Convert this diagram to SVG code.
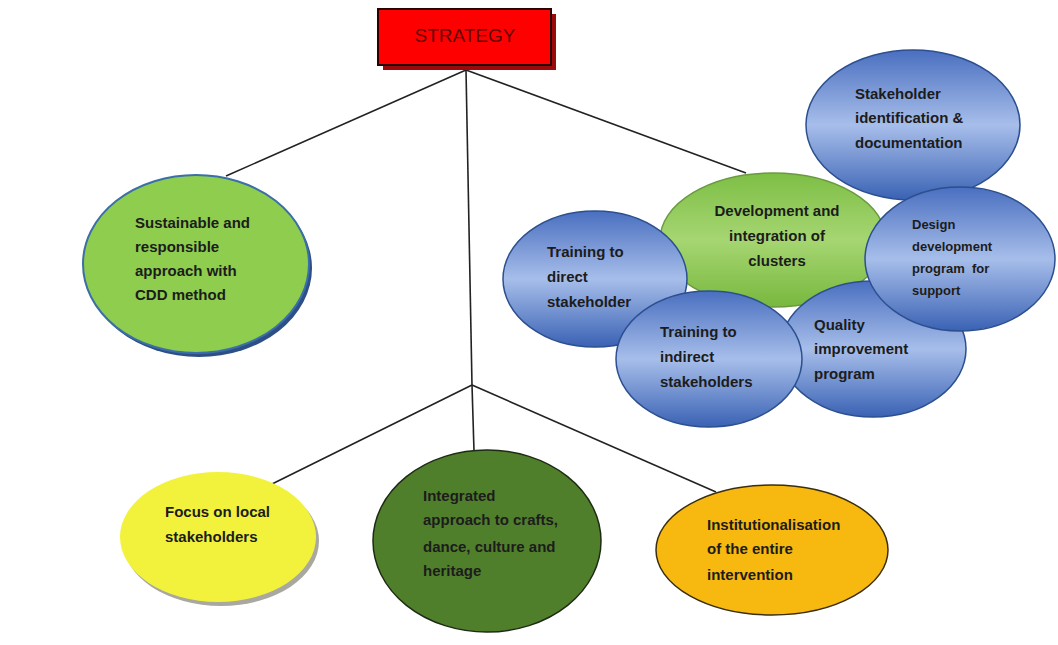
<svg xmlns="http://www.w3.org/2000/svg" width="1058" height="645" viewBox="0 0 1058 645">
<defs>
<linearGradient id="blue" x1="0" y1="0" x2="0" y2="1">
<stop offset="0" stop-color="#4A6FC0"/>
<stop offset="0.5" stop-color="#A7BEEA"/>
<stop offset="1" stop-color="#3A62B4"/>
</linearGradient>
<linearGradient id="lgreen" x1="0" y1="0" x2="0" y2="1">
<stop offset="0" stop-color="#7DBE45"/>
<stop offset="0.5" stop-color="#A6D672"/>
<stop offset="1" stop-color="#78B83E"/>
</linearGradient>
<style>
.t{font-family:"Liberation Sans",Arial,sans-serif;font-weight:bold;font-size:15px;fill:#1C1C1C}
.s{font-size:13px}
.con{stroke:#222;stroke-width:1.6;fill:none}
.bl{fill:url(#blue);stroke:#2C4F8F;stroke-width:1.5}
</style>
</defs>
<rect width="1058" height="645" fill="#FFFFFF"/>
<g id="connectors">
<line class="con" x1="466" y1="70" x2="226" y2="176"/>
<line class="con" x1="466" y1="70" x2="746" y2="173"/>
<line class="con" x1="466" y1="70" x2="472" y2="385"/>
<line class="con" x1="472" y1="385" x2="272" y2="484"/>
<line class="con" x1="472" y1="385" x2="474" y2="451"/>
<line class="con" x1="472" y1="385" x2="716" y2="492"/>
</g>
<g id="strategy">
<rect x="383" y="14" width="173" height="56" fill="#9A0A0A"/>
<rect x="378" y="9" width="173" height="56" fill="#FF0000" stroke="#2A0000" stroke-width="2"/>
<text x="465" y="42" text-anchor="middle" style="font-family:'Liberation Sans',Arial,sans-serif;font-size:19px;fill:#5E0606">STRATEGY</text>
</g>
<g id="sustainable">
<ellipse cx="199" cy="268" rx="113" ry="89" fill="#2D4F86"/>
<ellipse cx="196" cy="264" rx="113" ry="89" fill="#8FCD4E" stroke="#3A6FA8" stroke-width="2"/>
<text class="t" x="135" y="228">Sustainable and</text>
<text class="t" x="135" y="252">responsible</text>
<text class="t" x="135" y="276">approach with</text>
<text class="t" x="135" y="300">CDD method</text>
</g>
<g id="stakeholder-id">
<ellipse cx="913" cy="125" rx="107" ry="75" class="bl"/>
<text class="t" x="855" y="99">Stakeholder</text>
<text class="t" x="855" y="123">identification &amp;</text>
<text class="t" x="855" y="148">documentation</text>
</g>
<g id="development">
<ellipse cx="773" cy="240" rx="113" ry="67" fill="url(#lgreen)" stroke="#6A9A40" stroke-width="1.5"/>
<text class="t" x="777" y="216" text-anchor="middle">Development and</text>
<text class="t" x="777" y="241" text-anchor="middle">integration of</text>
<text class="t" x="777" y="266" text-anchor="middle">clusters</text>
</g>
<g id="training-direct">
<ellipse cx="595" cy="279" rx="92" ry="68" class="bl"/>
<text class="t" x="547" y="257">Training to</text>
<text class="t" x="547" y="282">direct</text>
<text class="t" x="547" y="307">stakeholder</text>
</g>
<g id="quality">
<ellipse cx="873" cy="349" rx="93" ry="68" class="bl"/>
<text class="t" x="814" y="330">Quality</text>
<text class="t" x="814" y="354">improvement</text>
<text class="t" x="814" y="379">program</text>
</g>
<g id="design">
<ellipse cx="960" cy="259" rx="95" ry="72" class="bl"/>
<text class="t s" x="912" y="229">Design</text>
<text class="t s" x="912" y="251">development</text>
<text class="t s" x="912" y="273" xml:space="preserve">program  for</text>
<text class="t s" x="912" y="295">support</text>
</g>
<g id="training-indirect">
<ellipse cx="709" cy="359" rx="93" ry="68" class="bl"/>
<text class="t" x="660" y="337">Training to</text>
<text class="t" x="660" y="362">indirect</text>
<text class="t" x="660" y="387">stakeholders</text>
</g>
<g id="focus">
<ellipse cx="221" cy="541" rx="98" ry="65" fill="#A8A8A0"/>
<ellipse cx="218" cy="537" rx="98" ry="65" fill="#F2F23C"/>
<text class="t" x="165" y="517">Focus on local</text>
<text class="t" x="165" y="542">stakeholders</text>
</g>
<g id="integrated">
<ellipse cx="487" cy="541" rx="114" ry="91" fill="#507F2C" stroke="#1E2A14" stroke-width="1.5"/>
<text class="t" x="423" y="501">Integrated</text>
<text class="t" x="423" y="525">approach to crafts,</text>
<text class="t" x="423" y="552">dance, culture and</text>
<text class="t" x="423" y="576">heritage</text>
</g>
<g id="institutionalisation">
<ellipse cx="772" cy="550" rx="116" ry="65" fill="#F7B910" stroke="#3A2E10" stroke-width="1.5"/>
<text class="t" x="707" y="530">Institutionalisation</text>
<text class="t" x="707" y="554">of the entire</text>
<text class="t" x="707" y="580">intervention</text>
</g>
</svg>
